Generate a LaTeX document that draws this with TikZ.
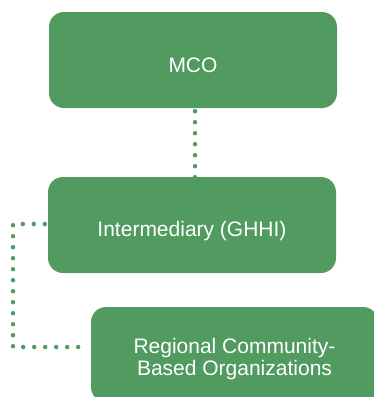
\documentclass[tikz,border=0pt]{standalone}
\usepackage{fontspec}
\setmainfont{Liberation Sans}
\definecolor{orggreen}{HTML}{519A60}

\begin{document}
\begin{tikzpicture}[x=1pt, y=-1pt,
		orgbox/.style={fill=orggreen, draw=none, rounded corners=15pt, minimum width=288pt, minimum height=96pt, inner sep=0pt},
		orgtext/.style={text=white, align=center, font=\fontsize{21}{22}\selectfont},
		link/.style={orggreen, line width=4.5pt, line cap=round, dash pattern=on 0pt off 11pt}]
		\useasboundingbox (0,0) rectangle (373,397);
		
		% Boxes
		\node[orgbox] (mco) at (193,60) {};
		\node[orgbox] (ghhi) at (192,225) {};
		\node[orgbox, minimum width=287pt, minimum height=95pt] (cbo) at (234.5,354.5) {};
		
		% Labels
		\node[orgtext] (mcotext) at ([yshift=-5pt]mco.center) {MCO};
		\node[orgtext] (ghhitext) at ([yshift=-6pt]ghhi.center) {Intermediary (GHHI)};
		\node[orgtext] (cbotext) at ([yshift=-5pt]cbo.center) {Regional Community-\\Based Organizations};
		
		% Connectors
		\draw[link] ([xshift=2pt, yshift=-3pt]mco.south) -- ([xshift=3pt, yshift=-0.5pt]ghhi.north);
		\coordinate (elbow) at (13,347);
		\draw[link] ([xshift=-3pt, yshift=1pt]ghhi.west) -| (elbow) -- ([xshift=-11.5pt]cbo.west |- elbow);
	\end{tikzpicture}
\end{document}
